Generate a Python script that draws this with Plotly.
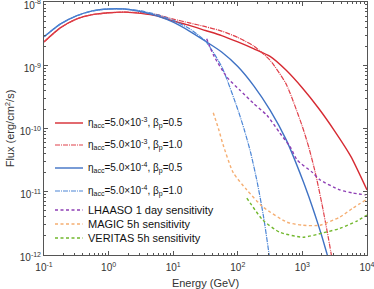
import plotly.graph_objects as go

# ---- data ----
E_red_solid = [0.1, 0.178, 0.316, 0.562, 1.0, 1.78, 3.16, 5.62, 10, 17.8, 31.6, 56.2, 100, 178, 316, 562, 1000, 1780, 3160, 5620, 10000]
F_red_solid = [2.34e-9, 3.89e-9, 5.37e-9, 6.31e-9, 6.76e-9, 6.92e-9, 6.61e-9, 6.03e-9, 5.01e-9, 4.27e-9, 3.55e-9, 2.95e-9, 2.34e-9, 1.82e-9, 1.38e-9, 8.32e-10, 4.37e-10, 2.09e-10, 9.12e-11, 3.63e-11, 1.07e-11]

E_red_dd = [0.1, 0.178, 0.316, 0.562, 1.0, 1.78, 3.16, 5.62, 10, 17.8, 31.6, 56.2, 100, 178, 316, 562, 1000, 1259, 1585, 1995, 2512, 3162]
F_red_dd = [2.34e-9, 3.89e-9, 5.37e-9, 6.31e-9, 6.76e-9, 6.92e-9, 6.76e-9, 6.31e-9, 5.37e-9, 4.68e-9, 4.07e-9, 3.47e-9, 2.75e-9, 2.00e-9, 1.20e-9, 5.01e-10, 1.07e-10, 5.01e-11, 2.00e-11, 6.61e-12, 1.91e-12, 5.01e-13]

E_blue_solid = [0.1, 0.178, 0.316, 0.562, 1.0, 1.78, 3.16, 5.62, 10, 17.8, 31.6, 56.2, 100, 178, 316, 562, 1000, 1259, 1585, 1995, 2512]
F_blue_solid = [2.82e-9, 4.47e-9, 6.03e-9, 7.24e-9, 7.76e-9, 7.76e-9, 7.08e-9, 6.03e-9, 4.79e-9, 3.47e-9, 2.40e-9, 1.62e-9, 9.55e-10, 4.68e-10, 1.95e-10, 6.61e-11, 1.58e-11, 8.32e-12, 4.17e-12, 2.00e-12, 8.91e-13]

E_blue_dd = [0.1, 0.178, 0.316, 0.562, 1.0, 1.78, 3.16, 5.62, 10, 17.8, 31.6, 56.2, 100, 126, 158, 200, 251, 316]
F_blue_dd = [2.82e-9, 4.47e-9, 6.03e-9, 7.24e-9, 7.76e-9, 7.76e-9, 7.24e-9, 6.31e-9, 5.13e-9, 3.80e-9, 2.40e-9, 9.55e-10, 2.00e-10, 9.55e-11, 4.17e-11, 1.41e-11, 3.98e-12, 7.94e-13]

E_lhaaso = [33, 42, 68, 107, 174, 282, 447, 646, 832, 1450, 1860, 3800, 6030, 9550]
F_lhaaso = [2.63e-9, 1.45e-9, 6.46e-10, 4.07e-10, 2.51e-10, 1.62e-10, 8.51e-11, 5.13e-11, 3.16e-11, 2.00e-11, 1.55e-11, 1.07e-11, 9.55e-12, 8.91e-12]

E_magic = [41.7, 50.1, 58.9, 85.1, 138, 245, 575, 1020, 1860, 3800, 6030, 9550]
F_magic = [1.78e-10, 1.00e-10, 5.62e-11, 2.00e-11, 1.07e-11, 5.75e-12, 3.31e-12, 2.95e-12, 2.95e-12, 3.98e-12, 5.50e-12, 7.41e-12]

E_veritas = [138, 245, 447, 1020, 2090, 3800, 7080, 10000]
F_veritas = [7.94e-12, 3.55e-12, 2.29e-12, 1.91e-12, 2.24e-12, 2.63e-12, 3.47e-12, 4.27e-12]

names = [
    "η<sub>acc</sub>=5.0×10<sup>-3</sup>, β<sub>p</sub>=0.5",
    "η<sub>acc</sub>=5.0×10<sup>-3</sup>, β<sub>p</sub>=1.0",
    "η<sub>acc</sub>=5.0×10<sup>-4</sup>, β<sub>p</sub>=0.5",
    "η<sub>acc</sub>=5.0×10<sup>-4</sup>, β<sub>p</sub>=1.0",
    "LHAASO 1 day sensitivity",
    "MAGIC 5h sensitivity",
    "VERITAS 5h sensitivity",
]

x_tickvals = [0.1, 1, 10, 100, 1000, 10000]
x_ticktext = ["10<sup>-1</sup>", "10<sup>0</sup>", "10<sup>1</sup>", "10<sup>2</sup>", "10<sup>3</sup>", "10<sup>4</sup>"]
y_tickvals = [1e-12, 1e-11, 1e-10, 1e-9, 1e-8]
y_ticktext = ["10<sup>-12</sup>", "10<sup>-11</sup>", "10<sup>-10</sup>", "10<sup>-9</sup>", "10<sup>-8</sup>"]

RED = "#d62a32"
RED_L = "#e0404a"
BLUE = "#3f72c4"
BLUE_L = "#4c86d6"
PURPLE = "#8e3fb5"
ORANGE = "#f5ae72"
GREEN = "#72b82e"

W, H = 374, 289
ML, MR, MT, MB = 44, 7, 2, 34
PW, PH = W - ML - MR, H - MT - MB
FONT = "Liberation Sans, Arial, sans-serif"

def px_x(px):
    return (px - ML) / PW

def px_y(py):
    return 1 - (py - MT) / PH

fig = go.Figure()
series = [
    (E_red_solid, F_red_solid, RED, "solid", 1.4),
    (E_red_dd, F_red_dd, RED_L, "5px,1px,1px,1px", 1.2),
    (E_blue_solid, F_blue_solid, BLUE, "solid", 1.4),
    (E_blue_dd, F_blue_dd, BLUE_L, "5px,1px,1px,1px", 1.2),
    (E_lhaaso, F_lhaaso, PURPLE, "3px,2.5px", 1.4),
    (E_magic, F_magic, ORANGE, "3px,2.5px", 1.4),
    (E_veritas, F_veritas, GREEN, "3px,2.5px", 1.4),
]
for (x, y, c, d, w), n in zip(series, names):
    fig.add_trace(go.Scatter(x=x, y=y, mode="lines", name=n, showlegend=False, hoverinfo="skip",
                             line=dict(color=c, dash=d, width=w, shape="spline", smoothing=0.6)))

# manual legend (row centres in pixels)
legend_rows = [123, 145, 168, 191, 210, 224, 238]
legend_sizes = [10, 10, 10, 10, 11, 11, 11]
for (x, y, c, d, w), n, ry, fs in zip(series, names, legend_rows, legend_sizes):
    fig.add_shape(type="line", xref="paper", yref="paper",
                  x0=px_x(55), x1=px_x(83), y0=px_y(ry), y1=px_y(ry),
                  line=dict(color=c, dash=d, width=w))
    fig.add_annotation(xref="paper", yref="paper", x=px_x(86), y=px_y(ry),
                       xanchor="left", yanchor="middle", text=n, showarrow=False,
                       font=dict(family=FONT, size=fs, color="#111"))

x_minor = [m * 10 ** k for k in range(-1, 4) for m in range(2, 10)]
y_minor = [m * 10.0 ** k for k in range(-12, -8) for m in range(2, 10)]

axis_common = dict(
    type="log", showgrid=False, zeroline=False, showline=True, linecolor="#555",
    linewidth=1, mirror="ticks", ticks="inside", ticklen=4, tickcolor="#555",
    tickfont=dict(family=FONT, size=10, color="#333"), ticklabeloverflow="allow",
)

fig.update_xaxes(range=[-1.0002, 4.0002], tickmode="array", tickvals=x_tickvals, ticktext=x_ticktext,
                 minor=dict(tickmode="array", tickvals=x_minor, ticks="inside", ticklen=2, tickcolor="#555", showgrid=False),
                 ticklabelstandoff=3,
                 title=dict(text="Energy (GeV)", font=dict(family=FONT, size=11, color="#333"), standoff=7),
                 **axis_common)
fig.update_yaxes(range=[-12.0002, -7.9998], tickmode="array", tickvals=y_tickvals, ticktext=y_ticktext,
                 minor=dict(tickmode="array", tickvals=y_minor, ticks="inside", ticklen=2, tickcolor="#555", showgrid=False),
                 ticklabelshift=3,
                 title=dict(text="Flux (erg/cm<sup>2</sup>/s)", font=dict(family=FONT, size=11, color="#333"), standoff=2),
                 **axis_common)

fig.update_layout(
    width=W, height=H,
    margin=dict(l=ML, r=MR, t=MT, b=MB, autoexpand=False),
    paper_bgcolor="white", plot_bgcolor="white",
    showlegend=False, hovermode=False,
)

fig.write_html("out.html", config={"displayModeBar": False},
               post_script="document.body.style.margin='0';document.body.style.padding='0';")
